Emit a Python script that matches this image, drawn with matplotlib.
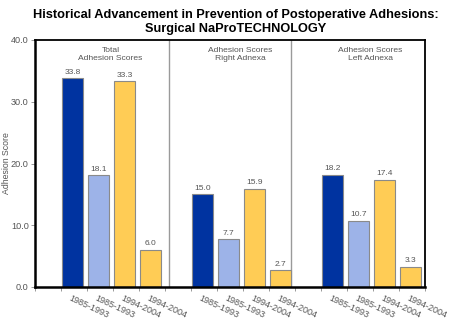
import matplotlib
matplotlib.use("Agg")
import matplotlib.pyplot as plt

plt.rcParams['font.family'] = ['Liberation Sans', 'DejaVu Sans']

# data
groups = ["Total\nAdhesion Scores", "Adhesion Scores\nRight Adnexa", "Adhesion Scores\nLeft Adnexa"]
periods = ["1985-1993", "1985-1993", "1994-2004", "1994-2004"]
total_scores = [33.8, 18.1, 33.3, 6.0]
right_scores = [15.0, 7.7, 15.9, 2.7]
left_scores = [18.2, 10.7, 17.4, 3.3]
yticks = [0, 10, 20, 30, 40]

colors = ['#0033a0', '#9db3e8', '#ffcc55', '#ffcc55']
grey = '#555555'

fig = plt.figure(figsize=(4.5, 3.22), dpi=100)
ax = fig.add_axes([35/450, 1-287/322, 390/450, 247/322])

all_scores = [total_scores, right_scores, left_scores]
for g, scores in enumerate(all_scores):
    start = 1 + 5*g
    xs = [start + i + 0.05 for i in range(len(scores))]
    bars = ax.bar(xs, scores, width=0.8, align='edge', color=colors,
                  edgecolor='#8a8a8a', linewidth=0.8, zorder=2)
    for b, v in zip(bars, scores):
        ax.text(b.get_x() + b.get_width()/2, v + 0.4, f"{v:.1f}", ha='center', va='bottom',
                fontsize=6, color=grey)
    for i, lab in enumerate(periods):
        ax.text(start + i + 0.4, -1.0, lab, rotation=-25, rotation_mode='anchor',
                ha='left', va='top', fontsize=6.5, color=grey)
    center = start + 1.9
    ax.text(center, 38.9, groups[g], ha='center', va='top', fontsize=6.1, color=grey,
            linespacing=1.25)

# group dividers
for xd in [5.15, 9.85]:
    ax.axvline(xd, color='#9a9a9a', linewidth=1.0, zorder=1)

ax.set_xlim(0, 15)
ax.set_ylim(0, 40)
ax.set_xticks(range(16))
ax.set_xticklabels([])
ax.set_yticks(yticks)
ax.set_yticklabels([f"{t:.1f}" for t in yticks])
ax.tick_params(axis='both', colors='#888888', labelcolor=grey, labelsize=6.6, length=3, width=0.6,
               pad=1.5)
ax.set_ylabel("Adhesion Score", fontsize=6.3, color=grey)
ax.yaxis.set_label_coords(-0.061, 0.5)

for side in ['left', 'bottom']:
    ax.spines[side].set_linewidth(1.8)
for side in ['top', 'right']:
    ax.spines[side].set_linewidth(1.3)

fig.text(236/450, 1-15/322, "Historical Advancement in Prevention of Postoperative Adhesions:",
         ha='center', va='center', fontsize=9.2, fontweight='bold')
fig.text(236/450, 1-29/322, "Surgical NaProTECHNOLOGY",
         ha='center', va='center', fontsize=9.2, fontweight='bold')

fig.savefig("out.png", dpi=100)
